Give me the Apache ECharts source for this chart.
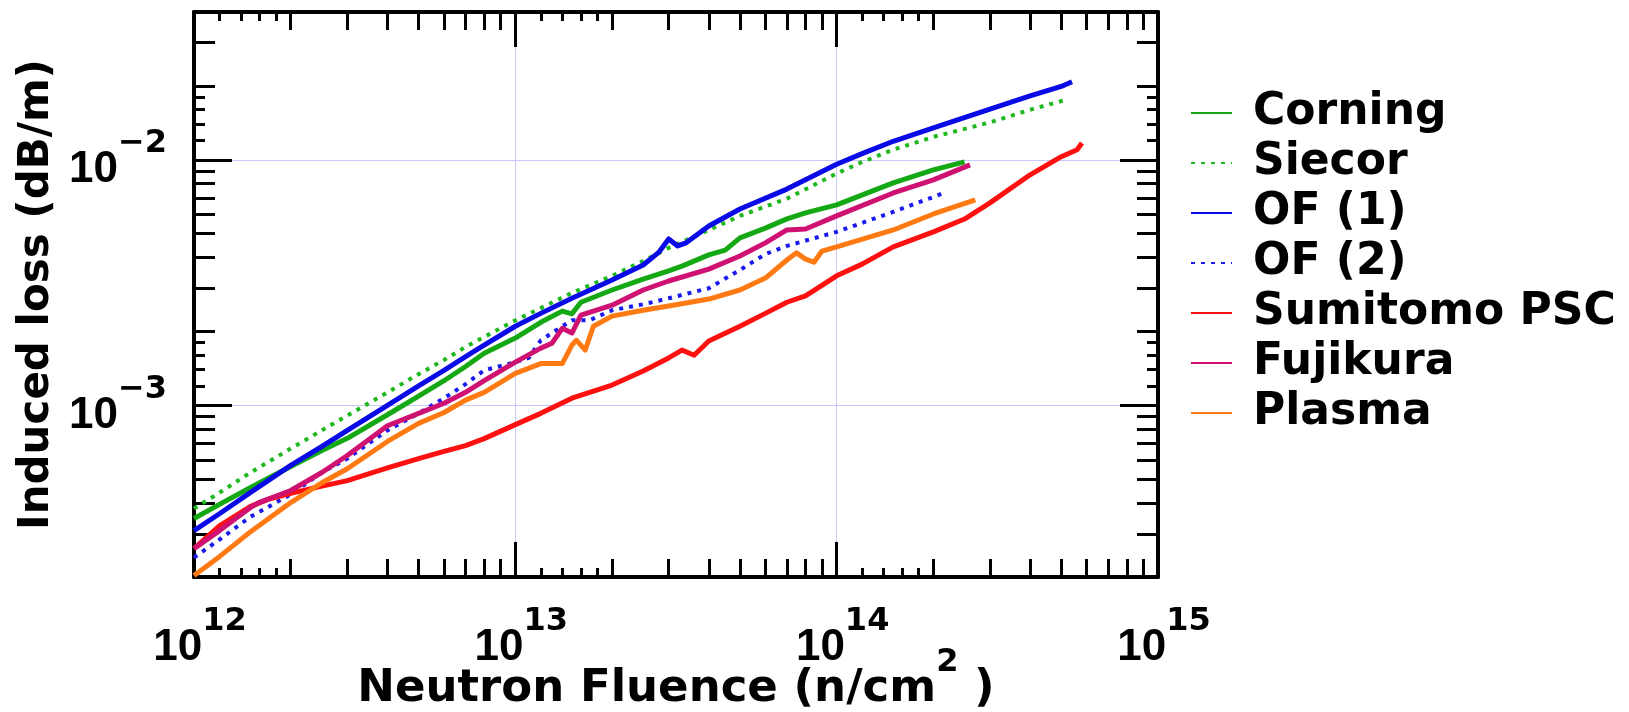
<!DOCTYPE html>
<html>
<head>
<meta charset="utf-8">
<title>Induced loss vs neutron fluence</title>
<script src="https://cdn.jsdelivr.net/npm/echarts@6/dist/echarts.min.js"></script>
<style>
  html, body { margin: 0; padding: 0; background: #fff; }
  #main { width: 1629px; height: 712px; }
</style>
</head>
<body>
<div id="main"></div>
<script>
// [fluence (n/cm2), induced loss (dB/m)]
var corning = [[1e12, 3.46e-4], [1.2e12, 3.95e-4], [1.5e12, 4.63e-4], [2e12, 5.64e-4], [2.5e12, 6.55e-4],
  [3e12, 7.34e-4], [4e12, 9.16e-4], [5e12, 1.09e-3], [6e12, 1.26e-3], [7e12, 1.44e-3], [8e12, 1.63e-3],
  [1e13, 1.88e-3], [1.2e13, 2.18e-3], [1.4e13, 2.42e-3], [1.5e13, 2.36e-3], [1.6e13, 2.63e-3], [2e13, 2.95e-3],
  [2.5e13, 3.27e-3], [3e13, 3.53e-3], [3.3e13, 3.69e-3], [4e13, 4.10e-3], [4.5e13, 4.29e-3], [5e13, 4.81e-3],
  [6e13, 5.27e-3], [7e13, 5.75e-3], [8e13, 6.08e-3], [1e14, 6.55e-3], [1.5e14, 8.06e-3], [2e14, 9.10e-3],
  [2.5e14, 9.81e-3]];
var siecor = [[1e12, 3.80e-4], [1.2e12, 4.41e-4], [1.5e12, 5.33e-4], [2e12, 6.67e-4], [2.5e12, 7.91e-4],
  [3e12, 9.09e-4], [4e12, 1.13e-3], [5e12, 1.34e-3], [6e12, 1.53e-3], [7e12, 1.73e-3], [8e12, 1.90e-3],
  [1e13, 2.22e-3], [1.2e13, 2.49e-3], [1.5e13, 2.87e-3], [2e13, 3.37e-3], [2.5e13, 3.87e-3], [3e13, 4.38e-3],
  [4e13, 5.18e-3], [5e13, 5.91e-3], [7e13, 6.95e-3], [1e14, 8.80e-3], [1.2e14, 9.80e-3], [1.5e14, 1.10e-2],
  [2e14, 1.24e-2], [3e14, 1.42e-2], [4e14, 1.60e-2], [5.2e14, 1.76e-2]];
var of1 = [[1e12, 3.09e-4], [1.2e12, 3.62e-4], [1.5e12, 4.42e-4], [2e12, 5.70e-4], [2.5e12, 6.80e-4],
  [3e12, 7.91e-4], [4e12, 1.00e-3], [5e12, 1.20e-3], [6e12, 1.39e-3], [7e12, 1.58e-3], [8e12, 1.76e-3],
  [1e13, 2.10e-3], [1.2e13, 2.37e-3], [1.5e13, 2.73e-3], [2e13, 3.24e-3], [2.5e13, 3.73e-3], [2.8e13, 4.21e-3],
  [3e13, 4.76e-3], [3.2e13, 4.46e-3], [3.4e13, 4.59e-3], [4e13, 5.38e-3], [5e13, 6.31e-3], [7e13, 7.60e-3],
  [1e14, 9.60e-3], [1.2e14, 1.06e-2], [1.5e14, 1.19e-2], [2e14, 1.35e-2], [3e14, 1.61e-2], [4e14, 1.82e-2],
  [5e14, 1.99e-2], [5.4e14, 2.08e-2]];
var of2 = [[1e12, 2.40e-4], [1.2e12, 2.84e-4], [1.5e12, 3.52e-4], [2e12, 4.34e-4], [2.5e12, 5.33e-4],
  [3e12, 6.07e-4], [4e12, 7.91e-4], [5e12, 9.28e-4], [6e12, 1.07e-3], [7e12, 1.22e-3], [8e12, 1.39e-3],
  [1e13, 1.50e-3], [1.1e13, 1.56e-3], [1.2e13, 1.84e-3], [1.4e13, 2.10e-3], [1.5e13, 2.22e-3], [1.7e13, 2.22e-3],
  [2e13, 2.44e-3], [2.5e13, 2.58e-3], [3e13, 2.73e-3], [4e13, 3.00e-3], [5e13, 3.56e-3], [6e13, 4.13e-3],
  [7e13, 4.46e-3], [1e14, 5.09e-3], [1.5e14, 6.14e-3], [2e14, 7.06e-3], [2.2e14, 7.40e-3]];
var sumitomo = [[1e12, 2.61e-4], [1.2e12, 3.23e-4], [1.5e12, 3.88e-4], [1.7e12, 4.14e-4], [2e12, 4.38e-4],
  [2.5e12, 4.69e-4], [3e12, 4.94e-4], [4e12, 5.56e-4], [5e12, 6.07e-4], [6e12, 6.50e-4], [7e12, 6.86e-4],
  [8e12, 7.32e-4], [1e13, 8.35e-4], [1.2e13, 9.28e-4], [1.5e13, 1.07e-3], [2e13, 1.21e-3], [2.5e13, 1.38e-3],
  [3e13, 1.56e-3], [3.3e13, 1.68e-3], [3.6e13, 1.60e-3], [4e13, 1.83e-3], [5e13, 2.10e-3], [6e13, 2.37e-3],
  [7e13, 2.63e-3], [8e13, 2.79e-3], [1e14, 3.37e-3], [1.2e14, 3.76e-3], [1.5e14, 4.42e-3], [2e14, 5.09e-3],
  [2.5e14, 5.74e-3], [3e14, 6.68e-3], [4e14, 8.69e-3], [5e14, 1.03e-2], [5.6e14, 1.10e-2], [5.8e14, 1.17e-2]];
var fujikura = [[1e12, 2.61e-4], [1.2e12, 3.09e-4], [1.5e12, 3.84e-4], [1.6e12, 4.03e-4], [2e12, 4.50e-4],
  [2.5e12, 5.33e-4], [3e12, 6.25e-4], [4e12, 8.26e-4], [5e12, 9.28e-4], [6e12, 1.02e-3], [7e12, 1.13e-3],
  [8e12, 1.26e-3], [1e13, 1.50e-3], [1.2e13, 1.71e-3], [1.3e13, 1.79e-3], [1.4e13, 2.06e-3], [1.5e13, 1.97e-3],
  [1.6e13, 2.33e-3], [2e13, 2.56e-3], [2.5e13, 2.95e-3], [3e13, 3.21e-3], [4e13, 3.59e-3], [5e13, 4.06e-3],
  [6e13, 4.59e-3], [7e13, 5.18e-3], [8e13, 5.23e-3], [1e14, 5.91e-3], [1.5e14, 7.33e-3], [2e14, 8.29e-3],
  [2.6e14, 9.54e-3]];
var plasma = [[1e12, 2.03e-4], [1.2e12, 2.42e-4], [1.5e12, 3.06e-4], [2e12, 4.02e-4], [2.5e12, 4.84e-4],
  [3e12, 5.52e-4], [4e12, 7.13e-4], [5e12, 8.45e-4], [6e12, 9.35e-4], [7e12, 1.05e-3], [8e12, 1.13e-3],
  [1e13, 1.35e-3], [1.2e13, 1.48e-3], [1.4e13, 1.48e-3], [1.5e13, 1.76e-3], [1.55e13, 1.84e-3], [1.65e13, 1.68e-3],
  [1.75e13, 2.10e-3], [2e13, 2.31e-3], [2.5e13, 2.44e-3], [3e13, 2.54e-3], [4e13, 2.71e-3], [5e13, 2.95e-3],
  [6e13, 3.30e-3], [7e13, 3.91e-3], [7.5e13, 4.18e-3], [8e13, 3.94e-3], [8.5e13, 3.83e-3], [9e13, 4.25e-3],
  [1e14, 4.42e-3], [1.5e14, 5.18e-3], [2e14, 6.02e-3], [2.7e14, 6.87e-3]];

var names = ['Corning', 'Siecor', 'OF (1)', 'OF (2)', 'Sumitomo PSC', 'Fujikura', 'Plasma'];

// tick positions (last x label sits just inside the axis end so it is not dropped)
var xMajor = [1e12, 1e13, 1e14, 1e15];
var xLabels = [1e12, 1e13, 1e14, 0.99999e15];
var xMinor = [2e12, 3e12, 4e12, 5e12, 6e12, 7e12, 8e12, 9e12, 2e13, 3e13, 4e13, 5e13, 6e13, 7e13, 8e13, 9e13,
  2e14, 3e14, 4e14, 5e14, 6e14, 7e14, 8e14, 9e14];
var xSmall = [1.2e12, 1.4e12, 1.6e12, 1.8e12, 1.2e13, 1.4e13, 1.6e13, 1.8e13, 1.2e14, 1.4e14, 1.6e14, 1.8e14];
var yMajor = [1e-3, 1e-2];
var yMinor = [3e-4, 4e-4, 5e-4, 6e-4, 7e-4, 8e-4, 9e-4, 2e-3, 3e-3, 4e-3, 5e-3, 6e-3, 7e-3, 8e-3, 9e-3, 2e-2, 3e-2];
var ySmall = [1.2e-3, 1.4e-3, 1.6e-3, 1.8e-3, 1.2e-2, 1.4e-2, 1.6e-2, 1.8e-2];

var frame = { show: true, onZero: false, lineStyle: { color: '#000', width: 4 } };
var gridLine = { show: true, lineStyle: { color: '#c8c8fa', width: 1 } };

var powRich = {
  a: { fontFamily: 'Liberation Sans', fontWeight: 'bold', fontSize: 44, color: '#000', padding: [20, 0, 0, 0] },
  b: { fontFamily: 'DejaVu Sans', fontWeight: 'bold', fontSize: 32, color: '#000', verticalAlign: 'top' }
};
function powLabel(v) {
  var e = Math.round(Math.log10(v));
  return '{a|10}{b|' + (e < 0 ? '\u2212' + (-e) : e) + '}';
}

function tickAxis(kind, position, values, len, withLine) {
  return {
    type: 'log', logBase: 10, position: position,
    min: kind === 'x' ? 1e12 : 2e-4,
    max: kind === 'x' ? 1e15 : 4e-2,
    axisLine: withLine ? frame : { show: false },
    axisTick: { show: true, inside: true, length: len, customValues: values, lineStyle: { color: '#000', width: 3 } },
    axisLabel: { show: false },
    splitLine: { show: false },
    nameMoveOverlap: false
  };
}

var xBase = tickAxis('x', 'bottom', xMajor, 35, true);
xBase.splitLine = gridLine;
xBase.axisLabel = {
  show: true, margin: 29, customValues: xLabels, showMinLabel: true, showMaxLabel: true,
  formatter: powLabel,
  rich: {
    a: Object.assign({}, powRich.a, { padding: [20, 0, 0, 12] }),
    b: powRich.b
  }
};
xBase.name = '{t|Neutron Fluence (n/cm}{s|2}{t| )}';
xBase.nameLocation = 'middle';
xBase.nameGap = 70;
xBase.nameTextStyle = {
  rich: {
    t: { fontFamily: 'DejaVu Sans', fontWeight: 'bold', fontSize: 45, color: '#000', padding: [20, 0, 0, 0] },
    s: { fontFamily: 'DejaVu Sans', fontWeight: 'bold', fontSize: 32, color: '#000', verticalAlign: 'top' }
  }
};

var yBase = tickAxis('y', 'left', yMajor, 38, true);
yBase.splitLine = gridLine;
yBase.axisLabel = {
  show: true, margin: 27, customValues: yMajor, formatter: powLabel, rich: powRich
};
yBase.name = 'Induced loss (dB/m)';
yBase.nameLocation = 'middle';
yBase.nameGap = 136;
yBase.nameTextStyle = { fontFamily: 'DejaVu Sans', fontWeight: 'bold', fontSize: 42, color: '#000' };

function line(name, data, color, dash, width) {
  return {
    name: name, type: 'line', data: data, symbol: 'none', showSymbol: false,
    xAxisIndex: 0, yAxisIndex: 0,
    lineStyle: { color: color, width: width, type: dash, cap: 'butt', join: 'round' },
    itemStyle: { color: color },
    emphasis: { disabled: true }
  };
}

var chart = echarts.init(document.getElementById('main'), null, { renderer: 'canvas' });
chart.setOption({
  animation: false,
  backgroundColor: '#fff',
  grid: { left: 194, right: 471, top: 12, bottom: 135, outerBoundsMode: 'none' },
  legend: {
    orient: 'vertical', left: 1190, top: 91, padding: 0, itemGap: 6,
    itemWidth: 41, itemHeight: 14, selectedMode: false,
    itemStyle: { opacity: 0 },
    textStyle: { fontFamily: 'DejaVu Sans', fontWeight: 'bold', fontSize: 44, color: '#000', lineHeight: 44, padding: [0, 0, 0, 16] },
    data: names
  },
  xAxis: [
    xBase,
    tickAxis('x', 'bottom', xMinor, 18, false),
    tickAxis('x', 'bottom', xSmall, 9, false),
    tickAxis('x', 'top', xMajor, 35, true),
    tickAxis('x', 'top', xMinor, 18, false),
    tickAxis('x', 'top', xSmall, 9, false)
  ],
  yAxis: [
    yBase,
    tickAxis('y', 'left', yMinor, 21, false),
    tickAxis('y', 'left', ySmall, 11, false),
    tickAxis('y', 'right', yMajor, 38, true),
    tickAxis('y', 'right', yMinor, 21, false),
    tickAxis('y', 'right', ySmall, 11, false)
  ],
  series: [
    line(names[0], corning, '#14a814', 'solid', 5),
    line(names[1], siecor, '#1fb81f', [4, 6], 4),
    line(names[2], of1, '#0a0ae6', 'solid', 5),
    line(names[3], of2, '#1a1af0', [4, 6], 4),
    line(names[4], sumitomo, '#ff1010', 'solid', 5),
    line(names[5], fujikura, '#cf1272', 'solid', 5),
    line(names[6], plasma, '#ff7a12', 'solid', 5)
  ]
});
</script>
</body>
</html>
